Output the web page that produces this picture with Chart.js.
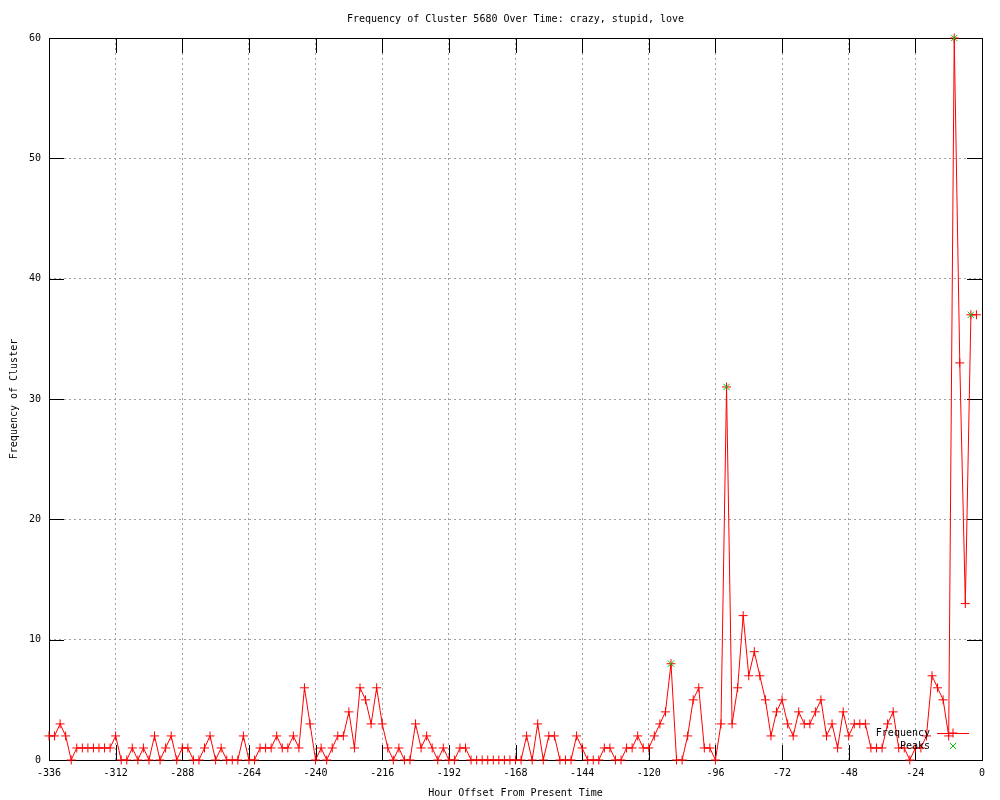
<!DOCTYPE html>
<html>
<head>
<meta charset="utf-8">
<title>Frequency of Cluster 5680 Over Time</title>
<script src="https://cdn.jsdelivr.net/npm/chart.js@4.4.0/dist/chart.umd.min.js"></script>
<style>
  html, body { margin: 0; padding: 0; background: #ffffff; }
  #wrap { width: 1000px; height: 800px; }
</style>
</head>
<body>
<div id="wrap"><canvas id="cluster-chart" width="1000" height="800"></canvas></div>
<script>
// Hour offsets of each sample (one every 2 hours)
const hourOffsets = [
  -336, -334, -332, -330, -328, -326, -324, -322, -320, -318, -316, -314,
  -312, -310, -308, -306, -304, -302, -300, -298, -296, -294, -292, -290,
  -288, -286, -284, -282, -280, -278, -276, -274, -272, -270, -268, -266,
  -264, -262, -260, -258, -256, -254, -252, -250, -248, -246, -244, -242,
  -240, -238, -236, -234, -232, -230, -228, -226, -224, -222, -220, -218,
  -216, -214, -212, -210, -208, -206, -204, -202, -200, -198, -196, -194,
  -192, -190, -188, -186, -184, -182, -180, -178, -176, -174, -172, -170,
  -168, -166, -164, -162, -160, -158, -156, -154, -152, -150, -148, -146,
  -144, -142, -140, -138, -136, -134, -132, -130, -128, -126, -124, -122,
  -120, -118, -116, -114, -112, -110, -108, -106, -104, -102, -100, -98,
  -96, -94, -92, -90, -88, -86, -84, -82, -80, -78, -76, -74,
  -72, -70, -68, -66, -64, -62, -60, -58, -56, -54, -52, -50,
  -48, -46, -44, -42, -40, -38, -36, -34, -32, -30, -28, -26,
  -24, -22, -20, -18, -16, -14, -12, -10, -8, -6, -4, -2
];

// Cluster frequency, same order as hourOffsets
const frequency = [
  2, 2, 3, 2, 0, 1, 1, 1, 1, 1, 1, 1,
  2, 0, 0, 1, 0, 1, 0, 2, 0, 1, 2, 0,
  1, 1, 0, 0, 1, 2, 0, 1, 0, 0, 0, 2,
  0, 0, 1, 1, 1, 2, 1, 1, 2, 1, 6, 3,
  0, 1, 0, 1, 2, 2, 4, 1, 6, 5, 3, 6,
  3, 1, 0, 1, 0, 0, 3, 1, 2, 1, 0, 1,
  0, 0, 1, 1, 0, 0, 0, 0, 0, 0, 0, 0,
  0, 0, 2, 0, 3, 0, 2, 2, 0, 0, 0, 2,
  1, 0, 0, 0, 1, 1, 0, 0, 1, 1, 2, 1,
  1, 2, 3, 4, 8, 0, 0, 2, 5, 6, 1, 1,
  0, 3, 31, 3, 6, 12, 7, 9, 7, 5, 2, 4,
  5, 3, 2, 4, 3, 3, 4, 5, 2, 3, 1, 4,
  2, 3, 3, 3, 1, 1, 1, 3, 4, 1, 1, 0,
  1, 1, 2, 7, 6, 5, 2, 60, 33, 13, 37, 37
];

// Detected peaks
const peakHours = [-112, -92, -10, -4];
const peakValues = [8, 31, 60, 37];

const FONT = { family: '"DejaVu Sans Mono", monospace', size: 10, lineHeight: 1.2, weight: 'normal' };
const RED = '#ff0000';
const GREEN = '#00c000';
const TICK_LEN = 15;

// Draws the gnuplot style frame with inward ticks on all four sides
const framePlugin = {
  id: 'gnuplotFrame',
  beforeDatasetsDraw(chart) {
    const { ctx, chartArea: a, scales } = chart;
    ctx.save();
    ctx.strokeStyle = '#000000';
    ctx.lineWidth = 1;
    ctx.setLineDash([]);
    ctx.beginPath();
    scales.x.ticks.forEach(t => {
      const px = Math.round(scales.x.getPixelForValue(t.value)) + 0.5;
      ctx.moveTo(px, a.bottom);
      ctx.lineTo(px, a.bottom - TICK_LEN);
      ctx.moveTo(px, a.top);
      ctx.lineTo(px, a.top + TICK_LEN);
    });
    scales.y.ticks.forEach(t => {
      const py = Math.round(scales.y.getPixelForValue(t.value)) + 0.5;
      ctx.moveTo(a.left, py);
      ctx.lineTo(a.left + TICK_LEN, py);
      ctx.moveTo(a.right, py);
      ctx.lineTo(a.right - TICK_LEN, py);
    });
    ctx.stroke();
    ctx.strokeRect(Math.round(a.left) + 0.5, Math.round(a.top) + 0.5,
      Math.round(a.right - a.left), Math.round(a.bottom - a.top));
    ctx.restore();
  }
};

// Key in the lower right corner, text left of the sample
const keyPlugin = {
  id: 'gnuplotKey',
  afterDatasetsDraw(chart) {
    const { ctx, chartArea: a } = chart;
    const textRight = a.right - 52;
    const lineStart = a.right - 45;
    const lineEnd = a.right - 13;
    const mid = (lineStart + lineEnd) / 2;
    const y1 = a.bottom - 27;
    const y2 = a.bottom - 14;
    ctx.save();
    ctx.font = '10px "DejaVu Sans Mono", monospace';
    ctx.fillStyle = '#000000';
    ctx.textAlign = 'right';
    ctx.textBaseline = 'middle';
    ctx.fillText('Frequency', textRight, y1);
    ctx.fillText('Peaks', textRight, y2);
    ctx.strokeStyle = RED;
    ctx.lineWidth = 1;
    ctx.beginPath();
    ctx.moveTo(lineStart, y1 + 0.5);
    ctx.lineTo(lineEnd, y1 + 0.5);
    ctx.stroke();
    Chart.helpers.drawPoint(ctx, { pointStyle: 'cross', radius: 4.5, borderWidth: 1 }, mid, y1);
    ctx.strokeStyle = GREEN;
    Chart.helpers.drawPoint(ctx, { pointStyle: 'crossRot', radius: 4.5, borderWidth: 1 }, mid, y2);
    ctx.restore();
  }
};

const ctx = document.getElementById('cluster-chart').getContext('2d');
new Chart(ctx, {
  type: 'line',
  data: {
    datasets: [
      {
        label: 'Frequency',
        data: hourOffsets.map((h, i) => ({ x: h, y: frequency[i] })),
        borderColor: RED,
        backgroundColor: RED,
        borderWidth: 1,
        pointStyle: 'cross',
        pointRadius: 4.5,
        pointBorderColor: RED,
        pointBorderWidth: 1,
        tension: 0,
        fill: false,
        clip: false,
        order: 1
      },
      {
        label: 'Peaks',
        data: peakHours.map((h, i) => ({ x: h, y: peakValues[i] })),
        showLine: false,
        borderColor: GREEN,
        backgroundColor: GREEN,
        pointStyle: 'crossRot',
        pointRadius: 4.5,
        pointBorderColor: GREEN,
        pointBorderWidth: 1,
        clip: false,
        order: 0
      }
    ]
  },
  options: {
    responsive: false,
    animation: false,
    devicePixelRatio: 1,
    layout: { padding: { top: 0, right: 18, bottom: 0, left: 0 } },
    scales: {
      x: {
        type: 'linear',
        min: -336,
        max: 0,
        ticks: { stepSize: 24, font: FONT, color: '#000000', padding: 7, maxRotation: 0, autoSkip: false },
        grid: { color: '#a0a0a0', drawTicks: false, lineWidth: 1 },
        border: { display: false, dash: [2, 3] },
        title: {
          display: true,
          text: 'Hour Offset From Present Time',
          font: FONT,
          color: '#000000',
          padding: { top: 0, bottom: 1 }
        },
        afterFit(scale) { scale.height = 40; }
      },
      y: {
        min: 0,
        max: 60,
        ticks: { stepSize: 10, font: FONT, color: '#000000', padding: 8 },
        grid: { color: '#a0a0a0', drawTicks: false, lineWidth: 1 },
        border: { display: false, dash: [2, 3] },
        title: {
          display: true,
          text: 'Frequency of Cluster',
          font: FONT,
          color: '#000000',
          padding: { top: 8, bottom: 0 }
        },
        afterFit(scale) { scale.width = 49; }
      }
    },
    plugins: {
      legend: { display: false },
      tooltip: { enabled: false },
      title: {
        display: true,
        text: 'Frequency of Cluster 5680 Over Time: crazy, stupid, love',
        font: FONT,
        color: '#000000',
        fullSize: false,
        padding: { top: 13, bottom: 13 }
      }
    }
  },
  plugins: [framePlugin, keyPlugin]
});
</script>
</body>
</html>
